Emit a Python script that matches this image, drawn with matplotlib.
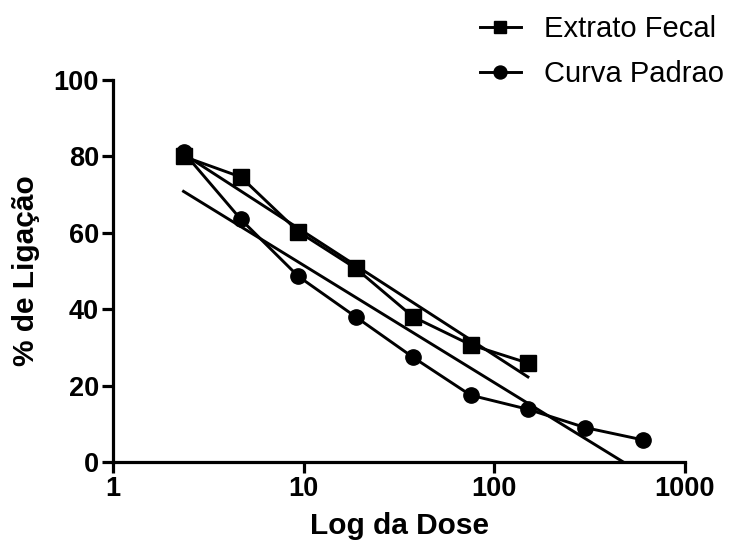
import matplotlib
matplotlib.use('Agg')
import matplotlib.pyplot as plt
import numpy as np

matplotlib.rc('font', family='Liberation Sans', size=19)

# data
dose_fecal = [2.34375, 4.6875, 9.375, 18.75, 37.5, 75, 150]
lig_fecal = [80.0, 74.6, 60.3, 50.7, 38.0, 30.7, 25.9]
dose_padrao = [2.34375, 4.6875, 9.375, 18.75, 37.5, 75, 150, 300, 600]
lig_padrao = [81.1, 63.5, 48.6, 38.0, 27.4, 17.5, 13.8, 9.0, 5.8]

fig = plt.figure(figsize=(7.35, 5.49), dpi=100)
ax = fig.add_axes([113/735, 87/549, 572/735, 382/549])

lw = 2.1
ax.plot(dose_fecal, lig_fecal, '-s', color='black', lw=lw, ms=11,
        label='Extrato Fecal', clip_on=False, zorder=3)
ax.plot(dose_padrao, lig_padrao, '-o', color='black', lw=lw, ms=11,
        label='Curva Padrao', clip_on=False, zorder=3)

# linear fits on log10(dose)
for d, y in ((dose_fecal, lig_fecal), (dose_padrao, lig_padrao)):
    lx = np.log10(d)
    k, b = np.polyfit(lx, y, 1)
    xs = np.array([lx[0], lx[-1]])
    ax.plot(10 ** xs, k * xs + b, '-', color='black', lw=lw, zorder=2)

ax.set_xscale('log')
ax.set_xlim(1, 1000)
ax.set_ylim(0, 100)
ax.set_xticks([1, 10, 100, 1000])
ax.set_xticklabels(['1', '10', '100', '1000'])
ax.minorticks_off()
ax.set_yticks([0, 20, 40, 60, 80, 100])

for s in ('top', 'right'):
    ax.spines[s].set_visible(False)
for s in ('left', 'bottom'):
    ax.spines[s].set_linewidth(2.3)
ax.tick_params(width=2.3, length=8, labelsize=19.5, pad=2)
for t in ax.get_xticklabels() + ax.get_yticklabels():
    t.set_fontweight('bold')

ax.set_xlabel('Log da Dose', fontsize=21.5, fontweight='bold', labelpad=7)
ax.set_ylabel('% de Ligação', fontsize=21.5, fontweight='bold', labelpad=10)

fig.legend(loc='upper left', bbox_to_anchor=(480/735, 1 - 15/549),
           frameon=False, fontsize=21, handlelength=1.4, labelspacing=0.58,
           handletextpad=0.8, borderpad=0, borderaxespad=0, markerscale=0.85)

fig.savefig('out.png', dpi=100)
